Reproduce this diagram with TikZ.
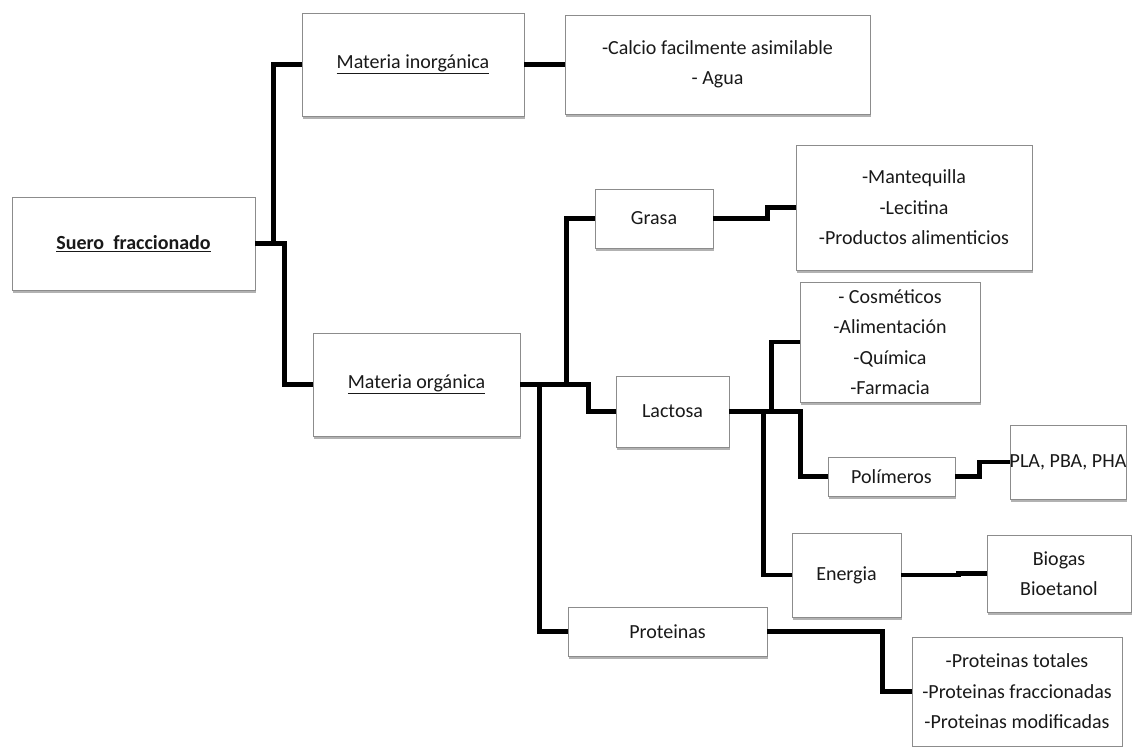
\documentclass[tikz,border=0pt]{standalone}
\usepackage{fontspec}
\setmainfont{Carlito}
\usetikzlibrary{shadows}
\begin{document}
\begin{tikzpicture}[x=1pt,y=-1pt,
  box/.style={draw=black!45, line width=0.9pt, fill=white, inner sep=0pt,
    align=center, text=black!90,
    font=\fontsize{20}{30.5}\selectfont,
    drop shadow={shadow xshift=1pt, shadow yshift=-3pt, fill=black!50, opacity=0.6}},
  conn/.style={draw=black, line width=4.5pt, line join=miter}]
\useasboundingbox[fill=white] (0,0) rectangle (1133,747);
% nodes
\node[box, minimum width=243pt, minimum height=93pt] (suero) at (133.5,243.5) {\bfseries\underline{Suero\ \ fraccionado}};
\node[box, minimum width=222pt, minimum height=103pt] (minorg) at (413,64.5) {\underline{Materia inorgánica}};
\node[box, minimum width=305pt, minimum height=99pt] (calcio) at (717.5,64.5) {-Calcio facilmente asimilable\\- Agua};
\node[box, minimum width=118pt, minimum height=59pt] (grasa) at (654,218.5) {Grasa};
\node[box, minimum width=236pt, minimum height=125pt] (mant) at (914,207.5) {-Mantequilla\\-Lecitina\\-Productos alimenticios};
\node[box, minimum width=180pt, minimum height=120pt] (cosm) at (890,342) {- Cosméticos\\-Alimentación\\-Química\\-Farmacia};
\node[box, minimum width=207pt, minimum height=103pt] (morg) at (416.5,384.5) {\underline{Materia orgánica}};
\node[box, minimum width=113pt, minimum height=71pt] (lact) at (672.5,411.5) {Lactosa};
\node[box, minimum width=127pt, minimum height=39pt] (polim) at (891.5,476.5) {Polímeros};
\node[box, minimum width=116pt, minimum height=74pt] (pla) at (1068,462) {};
\node[text=black!90, font=\fontsize{20}{30.5}\selectfont, inner sep=0pt] (platext) at (1068,462) {PLA, PBA, PHA};
\node[box, minimum width=109pt, minimum height=84pt] (energ) at (846.5,575) {Energia};
\node[box, minimum width=144pt, minimum height=77pt] (bio) at (1059,573.5) {Biogas\\Bioetanol};
\node[box, minimum width=199pt, minimum height=49pt] (prot) at (667.5,631.5) {Proteinas};
\node[box, minimum width=210pt, minimum height=109pt] (ptot) at (1017,691.5) {-Proteinas totales\\-Proteinas fraccionadas\\-Proteinas modificadas};
% connectors
\draw[conn] (suero.east) -- ++(18,0) |- (minorg.west);
\draw[conn] (suero.east) -- ++(29,0) |- (morg.west);
\draw[conn] (minorg.east) -- (calcio.west);
\draw[conn] (morg.east) -- ++(46,0) |- (grasa.west);
\draw[conn] (morg.east) -- ++(68,0) |- (lact.west);
\draw[conn] (morg.east) -- ++(19,0) |- (prot.west);
\draw[conn] (grasa.east) -- ++(54,0) |- (mant.west);
\draw[conn] (lact.east) -- ++(42,0) |- (cosm.west);
\draw[conn] (lact.east) -- ++(71,0) |- (polim.west);
\draw[conn] (lact.east) -- ++(34,0) |- (energ.west);
\draw[conn] (polim.east) -- ++(24,0) |- (pla.west);
\draw[conn] (energ.east) -- ++(57,0) |- (bio.west);
\draw[conn] (prot.east) -- ++(115,0) |- (ptot.west);
\end{tikzpicture}
\end{document}
